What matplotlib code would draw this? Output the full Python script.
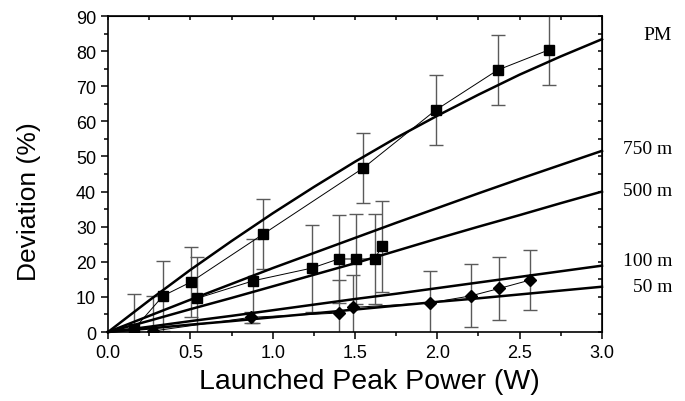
import matplotlib
matplotlib.use('Agg')
import matplotlib.pyplot as plt
from matplotlib.ticker import MultipleLocator, FormatStrFormatter, NullFormatter

# model curves
curve_x = [0.0, 0.25, 0.5, 0.75, 1.0, 1.25, 1.5, 1.75, 2.0, 2.25, 2.5, 2.75, 3.0]
curve_pm = [0.0, 9.0, 17.7, 25.9, 33.8, 41.3, 48.5, 55.3, 61.6, 67.6, 73.3, 78.5, 83.4]
curve_750 = [0.0, 4.6, 9.2, 13.7, 18.2, 22.5, 26.8, 31.1, 35.3, 39.5, 43.6, 47.6, 51.6]
curve_500 = [0.0, 3.2, 6.5, 9.7, 13.0, 16.3, 19.6, 23.1, 26.6, 30.0, 33.3, 36.7, 40.0]
curve_100 = [0.0, 1.5, 3.1, 4.6, 6.2, 7.8, 9.4, 10.9, 12.5, 14.1, 15.7, 17.3, 18.9]
curve_50 = [0.0, 1.0, 2.1, 3.1, 4.2, 5.3, 6.4, 7.5, 8.6, 9.6, 10.7, 11.8, 12.9]

curve_labels = ['PM', '750 m', '500 m', '100 m', '50 m']
label_y = [84.6, 52.4, 40.4, 20.5, 13.1]

# measured points (squares, PM fibre)
pm_x = [0.158, 0.334, 0.502, 0.943, 1.55, 1.99, 2.366, 2.68]
pm_y = [0.85, 10.3, 14.2, 27.9, 46.7, 63.2, 74.6, 80.4]
pm_err = [10.0, 10.0, 10.0, 10.0, 10.0, 10.0, 10.0, 10.0]

# measured points (squares, second series)
sq_x = [0.542, 0.883, 1.237, 1.40, 1.506, 1.621, 1.662]
sq_y = [9.6, 14.6, 18.2, 20.8, 20.8, 20.8, 24.4]
sq_err = [11.7, 12.0, 12.4, 12.5, 12.7, 12.8, 13.0]

# measured points (diamonds)
di_x = [0.275, 0.87, 1.40, 1.486, 1.955, 2.204, 2.376, 2.563]
di_y = [0.3, 4.2, 5.4, 7.0, 8.3, 10.3, 12.4, 14.8]
di_err = [10.0, 1.6, 9.4, 9.3, 9.2, 9.0, 8.9, 8.6]

fig = plt.figure(figsize=(6.85, 4.02), dpi=100)
ax = fig.add_axes([0.1577, 0.1716, 0.7211, 0.7861])

for c in [curve_pm, curve_750, curve_500, curve_100, curve_50]:
    ax.plot(curve_x, c, color='black', lw=1.8, zorder=3, clip_on=False)

for xs, ys, es, mk, ms in [(pm_x, pm_y, pm_err, 's', 6.5),
                           (sq_x, sq_y, sq_err, 's', 6.5),
                           (di_x, di_y, di_err, 'D', 6)]:
    ax.errorbar(xs, ys, yerr=es, fmt='none', ecolor='#5a5a5a', elinewidth=1.0,
                capsize=5, capthick=1.0, zorder=2)
    ax.plot(xs, ys, color='black', lw=0.7, marker=mk, markersize=ms,
            markerfacecolor='black', markeredgecolor='black', zorder=4)

for txt, yy in zip(curve_labels, label_y):
    ax.text(1.142, yy, txt, transform=ax.get_yaxis_transform(), ha='right', va='center',
            fontsize=14, family='Liberation Serif')

ax.set_xlim(0, 3.0)
ax.set_ylim(0, 90)
ax.xaxis.set_major_locator(MultipleLocator(0.5))
ax.xaxis.set_minor_locator(MultipleLocator(0.25))
ax.yaxis.set_major_locator(MultipleLocator(10))
ax.yaxis.set_minor_locator(MultipleLocator(5))
ax.xaxis.set_major_formatter(FormatStrFormatter('%.1f'))

for s in ax.spines.values():
    s.set_linewidth(1.2)

ax.tick_params(which='both', direction='out', width=1.1, labelsize=13)
ax.tick_params(which='major', length=5)
ax.tick_params(which='minor', length=3)
for lab in ax.get_xticklabels() + ax.get_yticklabels():
    lab.set_family('Liberation Sans')

# inward ticks on top and right
top = ax.secondary_xaxis('top')
top.xaxis.set_major_locator(MultipleLocator(0.25))
top.xaxis.set_major_formatter(NullFormatter())
top.tick_params(direction='in', length=3, width=1.1)
right = ax.secondary_yaxis('right')
right.yaxis.set_major_locator(MultipleLocator(5))
right.yaxis.set_major_formatter(NullFormatter())
right.tick_params(direction='in', length=3, width=1.1)

ax.set_xlabel('Launched Peak Power (W)', fontsize=20.5, family='Liberation Sans')
ax.xaxis.set_label_coords(0.53, -0.115)
ax.set_ylabel('Deviation (%)', fontsize=19, family='Liberation Sans')
ax.yaxis.set_label_coords(-0.135, 0.415)

fig.savefig('out.png', dpi=100)
